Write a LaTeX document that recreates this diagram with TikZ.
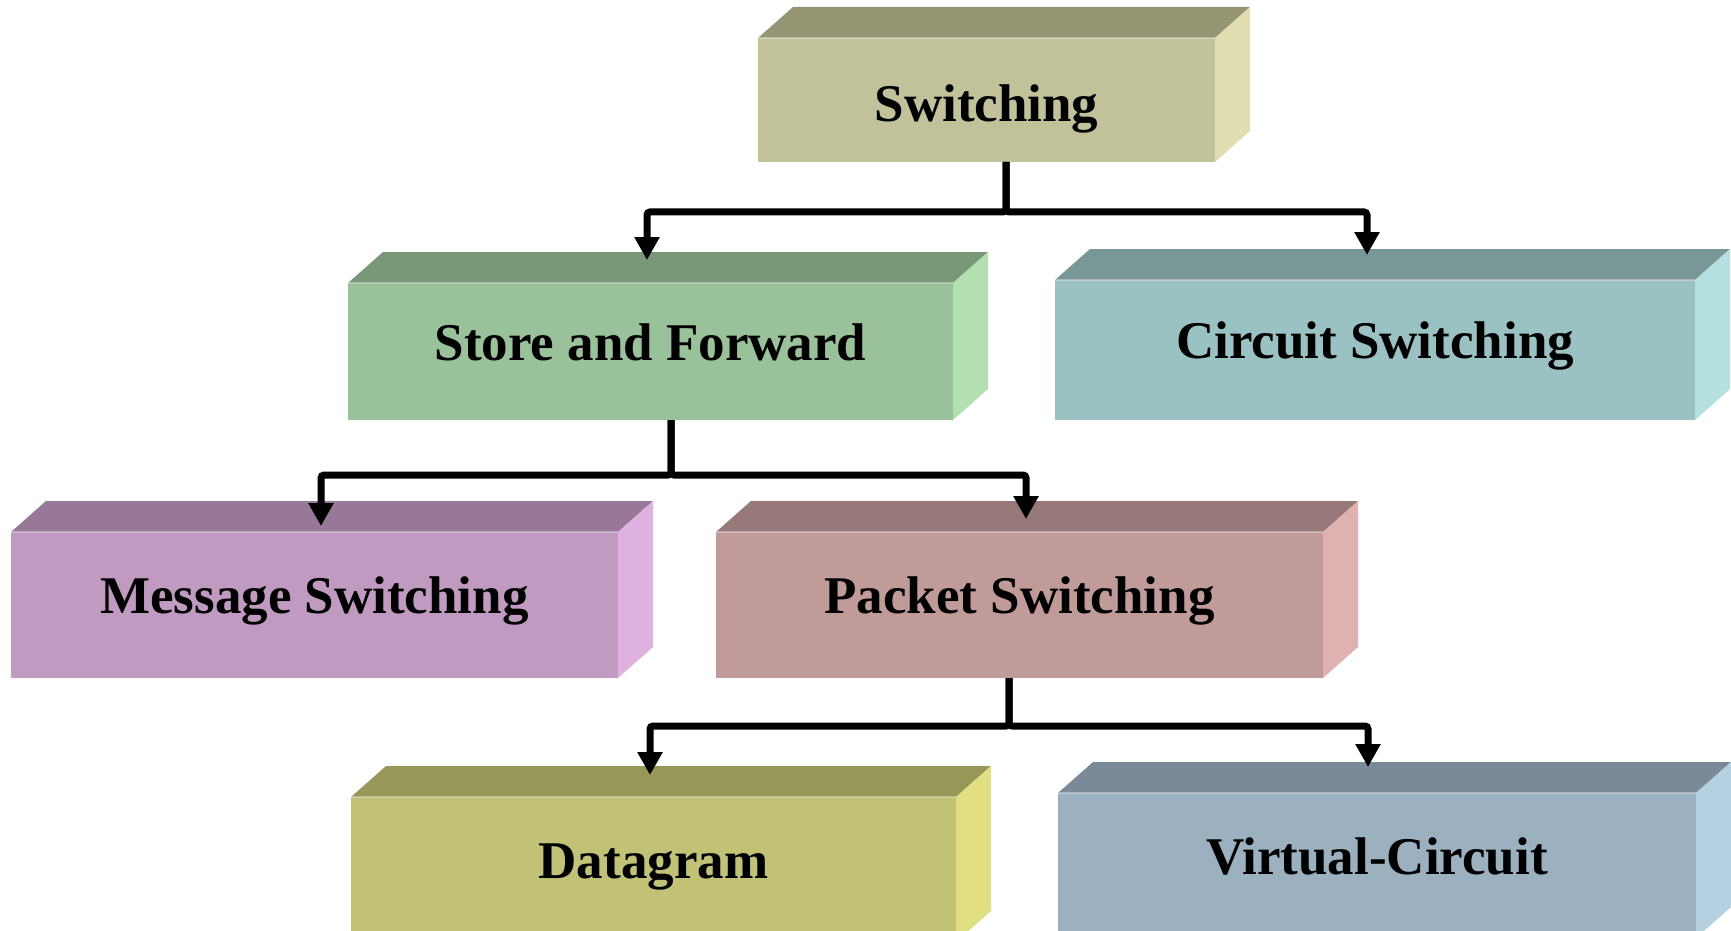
\documentclass[tikz,border=0pt]{standalone}
\usepackage{fontspec}
\setmainfont{Liberation Serif}
\usetikzlibrary{arrows.meta,calc}

% face colours: front / top / side
\definecolor{swF}{HTML}{C1C29A}\definecolor{swT}{HTML}{969574}\definecolor{swS}{HTML}{E1DFB1}
\definecolor{sfF}{HTML}{9AC29A}\definecolor{sfT}{HTML}{789878}\definecolor{sfS}{HTML}{B3E0B1}
\definecolor{csF}{HTML}{9BC2C2}\definecolor{csT}{HTML}{799797}\definecolor{csS}{HTML}{B4E0E0}
\definecolor{msF}{HTML}{C19AC2}\definecolor{msT}{HTML}{987898}\definecolor{msS}{HTML}{DFB1E0}
\definecolor{psF}{HTML}{C19A9A}\definecolor{psT}{HTML}{977979}\definecolor{psS}{HTML}{E0B1B1}
\definecolor{dgF}{HTML}{C1C276}\definecolor{dgT}{HTML}{98975A}\definecolor{dgS}{HTML}{E0E083}
\definecolor{vcF}{HTML}{9BB1C0}\definecolor{vcT}{HTML}{7A8A96}\definecolor{vcS}{HTML}{B4D0E1}

% top and side faces of a block, drawn behind its front face
\newcommand\blockfaces[3]{%
  \fill[#2] (#1.north west) -- ++(35,-31) -- ($(#1.north east)+(35,-31)$) -- (#1.north east) -- cycle;
  \fill[#3] (#1.north east) -- ++(35,-31) -- ($(#1.south east)+(35,-31)$) -- (#1.south east) -- cycle;
  \draw[white, opacity=.35, line width=.6pt] (#1.north west) -- (#1.north east);
}

\begin{document}
\begin{tikzpicture}[x={(0.5pt,0)}, y={(0,-0.5pt)},
  block/.style={rectangle, inner sep=0pt, outer sep=0pt,
    font=\fontsize{26.5pt}{30pt}\selectfont\bfseries,
    text height=18pt, text depth=9.5pt},
  conn/.style={line width=3.5pt, rounded corners=1.5pt,
    -{Triangle[length=11.5pt,width=12pt]}}
]
\clip (0,0) rectangle (1731,931);
\fill[white] (0,0) rectangle (1731,931);

% front faces
\node[block, fill=swF, minimum width=228.5pt, minimum height=62pt,
      text height=28pt, text depth=6.5pt] (sw) at (986.5,100) {Switching};
\node[block, fill=sfF, minimum width=302.5pt, minimum height=68.5pt] (sf) at (650.5,351.5) {Store and Forward};
\node[block, fill=csF, minimum width=320pt,   minimum height=70pt]   (cs) at (1375,350) {Circuit Switching};
\node[block, fill=msF, minimum width=303.5pt, minimum height=73pt]   (ms) at (314.5,605) {Message Switching};
\node[block, fill=psF, minimum width=303.5pt, minimum height=73pt]   (ps) at (1019.5,605) {Packet Switching};
\node[block, fill=dgF, minimum width=302.5pt, minimum height=72.5pt] (dg) at (653.5,869.5) {Datagram};
\node[block, fill=vcF, minimum width=319pt,   minimum height=72.5pt] (vc) at (1377,865.5) {Virtual-Circuit};

\blockfaces{sw}{swT}{swS}
\blockfaces{sf}{sfT}{sfS}
\blockfaces{cs}{csT}{csS}
\blockfaces{ms}{msT}{msS}
\blockfaces{ps}{psT}{psS}
\blockfaces{dg}{dgT}{dgS}
\blockfaces{vc}{vcT}{vcS}

% tree connectors
\draw[conn] ($(sw.south)+(19.5,0)$) -- ++(0,50) -| ($(sf.north)+(-3.5,-23)$);
\draw[conn] ($(sw.south)+(19.5,0)$) -- ++(0,50) -| ($(cs.north)+(-8,-25)$);
\draw[conn] ($(sf.south)+(20.5,0)$) -- ++(0,55) -| ($(ms.north)+(6.5,-6)$);
\draw[conn] ($(sf.south)+(20.5,0)$) -- ++(0,55) -| ($(ps.north)+(6.5,-13)$);
\draw[conn] ($(ps.south)+(-10.5,0)$) -- ++(0,48) -| ($(dg.north)+(-3.5,-22)$);
\draw[conn] ($(ps.south)+(-10.5,0)$) -- ++(0,48) -| ($(vc.north)+(-9,-26)$);
\end{tikzpicture}
\end{document}
